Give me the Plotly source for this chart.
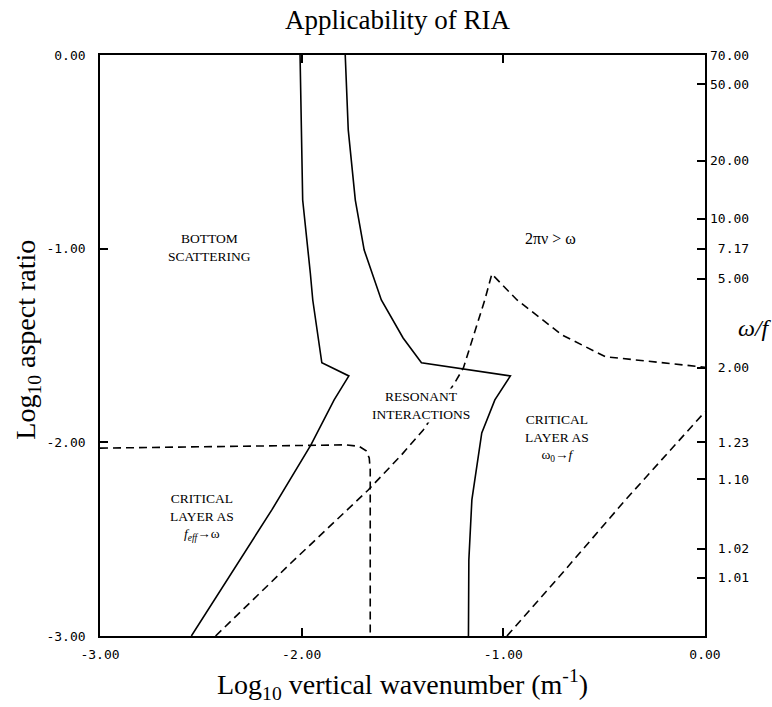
import plotly.graph_objects as go

# ---- data (log10 vertical wavenumber, log10 aspect ratio) ----
left_solid_x = [-2.008, -1.995, -1.957, -1.945, -1.900, -1.766, -1.839, -1.954, -2.148, -2.547]
left_solid_y = [0.0, -0.749, -1.127, -1.265, -1.589, -1.657, -1.781, -2.013, -2.349, -3.0]

mid_solid_x = [-1.784, -1.769, -1.734, -1.690, -1.605, -1.497, -1.406, -0.965,
               -1.042, -1.107, -1.156, -1.171, -1.173]
mid_solid_y = [0.0, -0.387, -0.749, -1.007, -1.265, -1.461, -1.589, -1.657,
               -1.781, -1.951, -2.297, -2.607, -3.0]

main_dash_x = [-2.427, -2.053, -1.670, -1.505, -1.397, -1.241, -1.198, -1.092,
               -1.057, -0.932, -0.708, -0.494, 0.0]
main_dash_y = [-3.0, -2.623, -2.246, -2.065, -1.936, -1.693, -1.616, -1.265,
               -1.131, -1.265, -1.446, -1.558, -1.612]

corner_dash_x = [-3.0, -1.779, -1.715, -1.680, -1.665, -1.660, -1.660]
corner_dash_y = [-2.03, -2.013, -2.021, -2.044, -2.081, -2.142, -3.0]

right_dash_x = [-0.982, -0.708, -0.394, 0.0]
right_dash_y = [-3.0, -2.676, -2.297, -1.842]

x_tick_vals = [-3, -2, -1, 0]
x_tick_text = ["-3.00", "-2.00", "-1.00", "0.00"]
y_tick_vals = [0, -1, -2, -3]
y_tick_text = ["0.00", "-1.00", "-2.00", "-3.00"]

wf_tick_vals = [0.0, -0.150, -0.545, -0.845, -1.0, -1.155, -1.614, -2.0, -2.19, -2.55, -2.70]
wf_tick_text = ["70.00", "50.00", "20.00", "10.00", "7.17", "5.00", "2.00", "1.23", "1.10", "1.02", "1.01"]

NBSP = "\u00a0"
wf_tick_text_padded = [NBSP * (5 - len(t)) + t for t in wf_tick_text]

SERIF = "Liberation Serif, Times New Roman, serif"
MONO = "DejaVu Sans Mono, monospace"

fig = go.Figure()
solid = dict(color="black", width=1.6)
dashed = dict(color="black", width=1.6, dash="8px,5px")

fig.add_trace(go.Scatter(x=left_solid_x, y=left_solid_y, mode="lines", line=solid, showlegend=False, hoverinfo="skip"))
fig.add_trace(go.Scatter(x=mid_solid_x, y=mid_solid_y, mode="lines", line=solid, showlegend=False, hoverinfo="skip"))
fig.add_trace(go.Scatter(x=main_dash_x, y=main_dash_y, mode="lines", line=dashed, showlegend=False, hoverinfo="skip"))
fig.add_trace(go.Scatter(x=corner_dash_x, y=corner_dash_y, mode="lines", line=dashed, showlegend=False, hoverinfo="skip"))
fig.add_trace(go.Scatter(x=right_dash_x, y=right_dash_y, mode="lines", line=dashed, showlegend=False, hoverinfo="skip"))
# dummy trace on right axis
fig.add_trace(go.Scatter(x=[None], y=[None], yaxis="y2", showlegend=False, hoverinfo="skip"))

label_font = dict(family=SERIF, size=13.5, color="black")
region_labels = [
    (-2.457, -0.996, "BOTTOM<br>SCATTERING"),
    (-1.406, -1.810, "RESONANT<br>INTERACTIONS"),
    (-0.733, -1.977, "CRITICAL<br>LAYER AS<br>ω<sub>0</sub>→<i>f</i>"),
    (-2.492, -2.385, "CRITICAL<br>LAYER AS<br><i>f</i><sub><i>eff</i></sub>→ω"),
]
for x, y, t in region_labels:
    fig.add_annotation(x=x, y=y, xref="x", yref="y", text=t, showarrow=False,
                       font=label_font, bgcolor="white", align="center", borderpad=0)
fig.add_annotation(x=-0.768, y=-0.945, xref="x", yref="y", text="2πν > ω", showarrow=False,
                   font=dict(family=SERIF, size=16, color="black"))

# titles
fig.add_annotation(x=0.491, y=1.0 + 35 / 581, xref="paper", yref="paper", text="Applicability of RIA",
                   showarrow=False, font=dict(family=SERIF, size=27, color="black"),
                   xanchor="center", yanchor="middle")
fig.add_annotation(x=0.5, y=-48 / 581, xref="paper", yref="paper",
                   text="Log<sub>10</sub> vertical wavenumber (m<sup>-1</sup>)",
                   showarrow=False, font=dict(family=SERIF, size=28, color="black"),
                   xanchor="center", yanchor="middle")
fig.add_annotation(x=-72 / 605, y=0.51, xref="paper", yref="paper",
                   text="Log<sub>10</sub> aspect ratio", textangle=-90,
                   showarrow=False, font=dict(family=SERIF, size=28, color="black"),
                   xanchor="center", yanchor="middle")
fig.add_annotation(x=1.0 + 50 / 605, y=(636 - 328) / 581, xref="paper", yref="paper",
                   text="<i>ω/f</i>", showarrow=False,
                   font=dict(family=SERIF, size=24, color="black"),
                   xanchor="center", yanchor="middle")

axis_common = dict(showgrid=False, zeroline=False, showline=True, linecolor="black", linewidth=1.6,
                   ticks="inside", ticklen=8, tickwidth=1.5, tickcolor="black",
                   tickfont=dict(family=MONO, size=13, color="black"))

fig.update_layout(
    width=772, height=707,
    margin=dict(l=100, r=67, t=55, b=71),
    paper_bgcolor="white", plot_bgcolor="white",
    xaxis=dict(range=[-3, 0], tickvals=x_tick_vals, ticktext=x_tick_text, mirror="ticks",
               ticklabelstandoff=6, **axis_common),
    yaxis=dict(range=[-3, 0], tickvals=y_tick_vals, ticktext=y_tick_text, mirror=True,
               ticklabelstandoff=10, **axis_common),
    yaxis2=dict(range=[-3, 0], overlaying="y", side="right", anchor="x",
                tickvals=wf_tick_vals, ticktext=wf_tick_text_padded,
                showgrid=False, zeroline=False, showline=False,
                ticks="inside", ticklen=8, tickwidth=1.5, tickcolor="black",
                ticklabelstandoff=4,
                tickfont=dict(family=MONO, size=13, color="black")),
)

fig.write_html("out.html")
